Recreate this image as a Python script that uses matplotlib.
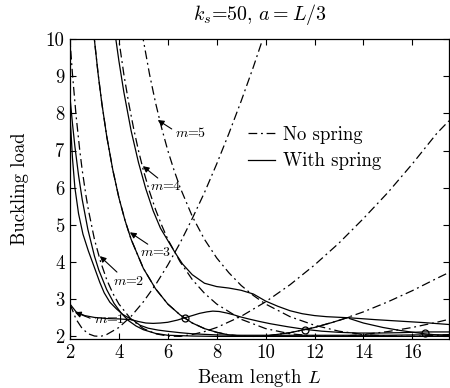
import matplotlib
matplotlib.use("Agg")
import matplotlib.pyplot as plt

plt.rcParams['font.family'] = ['cmr10']
plt.rcParams['mathtext.fontset'] = 'cm'
plt.rcParams['axes.formatter.use_mathtext'] = True

# ---------------- data ----------------
# No spring (dash-dot), modes m = 1..5
ns1_L = [2.0, 2.25, 2.5, 2.75, 3.0, 3.25, 3.5, 4.0, 4.5, 5.0, 5.5, 6.0, 6.5, 7.0, 7.5, 8.0, 8.5, 9.0, 9.5, 10.0, 10.5]
ns1_P = [2.87, 2.46, 2.21, 2.07, 2.01, 2.00, 2.05, 2.24, 2.54, 2.93, 3.39, 3.92, 4.51, 5.17, 5.87, 6.64, 7.46, 8.33, 9.25, 10.23, 11.26]

ns2_L = [1.98, 2.0, 2.1, 2.25, 2.4, 2.5, 2.65, 2.75, 3.0, 3.25, 3.5, 3.75, 4.0, 4.5, 5.0, 5.5, 6.0, 6.5, 7.0, 7.5, 8.0, 9.0, 10.0, 11.0, 12.0, 13.0, 14.0, 15.0, 16.0, 17.0, 17.5]
ns2_P = [10.17, 9.97, 9.06, 7.93, 7.00, 6.47, 5.80, 5.41, 4.61, 4.01, 3.53, 3.16, 2.87, 2.46, 2.21, 2.07, 2.01, 2.00, 2.05, 2.13, 2.24, 2.54, 2.93, 3.39, 3.92, 4.51, 5.17, 5.87, 6.64, 7.46, 7.80]

ns3_L = [2.95, 3.0, 3.15, 3.3, 3.5, 3.75, 4.0, 4.25, 4.5, 5.0, 5.5, 6.0, 6.5, 7.0, 7.5, 8.0, 8.5, 9.0, 9.5, 10.0, 11.0, 12.0, 13.0, 14.0, 15.0, 16.0, 17.0, 17.5]
ns3_P = [10.3, 9.97, 9.06, 8.28, 7.39, 6.48, 5.73, 5.12, 4.61, 3.83, 3.28, 2.87, 2.58, 2.36, 2.21, 2.11, 2.04, 2.01, 2.00, 2.01, 2.10, 2.24, 2.43, 2.66, 2.93, 3.23, 3.56, 3.72]

ns4_L = [3.95, 4.0, 4.2, 4.4, 4.6, 4.8, 5.0, 5.25, 5.5, 5.75, 6.0, 6.5, 7.0, 7.5, 8.0, 9.0, 10.0, 11.0, 12.0, 13.0, 14.0, 15.0, 16.0, 17.0, 17.5]
ns4_P = [10.22, 9.97, 9.06, 8.28, 7.60, 7.00, 6.47, 5.90, 5.41, 4.99, 4.61, 4.01, 3.53, 3.16, 2.87, 2.46, 2.21, 2.07, 2.01, 2.00, 2.05, 2.13, 2.24, 2.38, 2.46]

ns5_L = [4.95, 5.0, 5.25, 5.5, 5.75, 6.0, 6.25, 6.5, 7.0, 7.5, 8.0, 8.5, 9.0, 9.5, 10.0, 11.0, 12.0, 13.0, 14.0, 15.0, 16.0, 17.0, 17.5]
ns5_P = [10.17, 9.97, 9.06, 8.28, 7.60, 7.00, 6.48, 6.01, 5.23, 4.61, 4.11, 3.71, 3.37, 3.10, 2.87, 2.53, 2.30, 2.14, 2.05, 2.01, 2.00, 2.03, 2.05]

# With spring (solid)
wsA_L = [2.0, 2.25, 2.6, 3.0, 3.5, 4.0, 4.5, 4.8, 5.1, 5.4, 5.7, 6.0, 6.4, 6.69, 7.0, 7.3, 7.6, 7.84, 8.1, 8.4, 8.7, 8.94, 9.3, 9.76, 10.2, 10.9, 11.6, 12.3, 13.0, 13.8, 14.6, 15.5, 16.5, 17.5]
wsA_P = [2.87, 2.66, 2.56, 2.51, 2.48, 2.47, 2.45, 2.40, 2.36, 2.35, 2.36, 2.38, 2.44, 2.50, 2.56, 2.62, 2.66, 2.68, 2.67, 2.63, 2.58, 2.53, 2.47, 2.40, 2.34, 2.26, 2.19, 2.14, 2.11, 2.09, 2.09, 2.10, 2.12, 2.12]

wsB_L = [2.0, 2.04, 2.1, 2.2, 2.35, 2.53, 2.75, 3.0, 3.22, 3.4, 3.63, 3.9, 4.16, 4.4, 4.6, 4.86, 5.2, 5.6, 5.95, 6.5, 7.0, 8.0, 9.0, 10.0, 11.0, 12.0, 13.0, 14.0, 15.0, 16.0, 17.0, 17.5]
wsB_P = [7.9, 7.5, 6.8, 6.0, 5.3, 4.75, 4.3, 3.85, 3.45, 3.17, 2.92, 2.74, 2.59, 2.50, 2.43, 2.30, 2.22, 2.17, 2.14, 2.10, 2.07, 2.04, 2.03, 2.03, 2.03, 2.03, 2.03, 2.03, 2.03, 2.04, 2.04, 2.04]

wsC_L = [2.0, 2.1, 2.2, 2.35, 2.5, 2.73, 3.0, 3.18, 3.5, 3.8, 4.1, 4.4, 4.7, 5.0, 5.5, 6.0, 7.0, 8.0, 9.0, 10.0, 12.0, 14.0, 16.0, 17.5]
wsC_P = [8.43, 7.73, 7.11, 6.33, 5.68, 4.88, 4.16, 3.78, 3.26, 2.89, 2.62, 2.42, 2.28, 2.18, 2.08, 2.03, 2.01, 2.00, 2.00, 2.00, 2.00, 2.00, 2.00, 2.00]

ws3_L = [2.95, 3.0, 3.15, 3.3, 3.5, 3.75, 4.0, 4.25, 4.5, 5.0, 5.5, 6.0, 6.5, 7.0, 7.5, 8.0, 8.5, 9.0, 9.5, 10.0, 11.0, 12.0, 12.7, 13.43]
ws3_P = [10.3, 9.97, 9.06, 8.28, 7.39, 6.48, 5.73, 5.12, 4.61, 3.83, 3.28, 2.87, 2.58, 2.36, 2.21, 2.11, 2.04, 2.01, 2.00, 2.01, 2.10, 2.24, 2.37, 2.52]

ws4_L = [3.85, 3.88, 4.0, 4.2, 4.5, 4.8, 5.1, 5.4, 5.7, 6.0, 6.3, 6.6, 7.0, 7.5, 8.0, 8.5, 9.0, 9.5, 10.0, 10.5, 11.0, 11.5, 12.0, 12.5, 13.43, 14.5, 15.5, 16.5, 17.5]
ws4_P = [10.12, 9.97, 9.41, 8.58, 7.53, 6.68, 5.97, 5.38, 4.91, 4.58, 4.25, 3.95, 3.66, 3.43, 3.34, 3.30, 3.24, 3.14, 2.95, 2.81, 2.69, 2.61, 2.56, 2.53, 2.50, 2.45, 2.41, 2.37, 2.32]

ws6_L = [13.43, 14.0, 14.8, 15.5, 16.15, 16.5, 17.0, 17.5]
ws6_P = [2.48, 2.36, 2.24, 2.16, 2.10, 2.07, 2.04, 2.02]

circle_L = [6.69, 11.6, 16.5]
circle_P = [2.50, 2.18, 2.10]

mode_labels = ['$m$=1', '$m$=2', '$m$=3', '$m$=4', '$m$=5']
arrow_tip = [(2.2, 2.65), (3.22, 4.16), (4.45, 4.80), (4.98, 6.58), (5.59, 7.82)]
arrow_tail = [(2.82, 2.49), (3.92, 3.73), (5.18, 4.48), (5.59, 6.26), (6.16, 7.58)]
label_pos = [(3.6, 2.46), (4.42, 3.48), (5.52, 4.26), (5.93, 6.02), (6.95, 7.47)]

xticks = [2, 4, 6, 8, 10, 12, 14, 16]
yticks = [2, 3, 4, 5, 6, 7, 8, 9, 10]

# ---------------- figure ----------------
fig = plt.figure(figsize=(4.5, 3.88), dpi=100)
ax = fig.add_axes([70/450, 49/388, 379/450, 300/388])

dd = (7, 3, 1.5, 3)
lw = 0.9
ns_sets = [(ns1_L, ns1_P), (ns2_L, ns2_P), (ns3_L, ns3_P), (ns4_L, ns4_P), (ns5_L, ns5_P)]
for i, (Lx, Py) in enumerate(ns_sets):
    ax.plot(Lx, Py, color='k', lw=lw, dashes=dd,
            label='No spring' if i == 0 else None)

ws_sets = [(wsA_L, wsA_P), (wsB_L, wsB_P), (wsC_L, wsC_P), (ws3_L, ws3_P),
           (ws4_L, ws4_P), (ws6_L, ws6_P)]
for i, (Lx, Py) in enumerate(ws_sets):
    ax.plot(Lx, Py, color='k', lw=lw, ls='-',
            label='With spring' if i == 0 else None)

ax.plot(circle_L, circle_P, ls='none', marker='o', ms=5, mfc='none', mec='k', mew=0.9)

for lab, tip, tail, pos in zip(mode_labels, arrow_tip, arrow_tail, label_pos):
    ax.annotate('', xy=tip, xytext=tail,
                arrowprops=dict(arrowstyle='-|>', color='k', lw=0.8,
                                mutation_scale=9, shrinkA=0, shrinkB=0))
    ax.text(pos[0], pos[1], lab, fontsize=10, ha='center', va='center')

ax.set_xlim(2, 17.5)
ax.set_ylim(1.93, 10)
ax.set_xticks(xticks)
ax.set_yticks(yticks)
ax.set_xticklabels([str(v) for v in xticks])
ax.set_yticklabels([str(v) for v in yticks])
ax.tick_params(direction='in', length=4, width=0.8, top=True, right=True,
               labelsize=13.5, pad=4)
for s in ax.spines.values():
    s.set_linewidth(0.9)

ax.set_xlabel('Beam length $L$', fontsize=13.5, labelpad=3)
ax.set_ylabel('Buckling load', fontsize=13.5, labelpad=12)
ax.set_title('$k_s$=50, $a=L/3$', fontsize=14.4, pad=14)

handles, labels = ax.get_legend_handles_labels()
ax.legend(handles, labels, loc='upper left', bbox_to_anchor=(0.435, 0.755),
          frameon=False, fontsize=13.5, handlelength=1.45, handletextpad=0.4,
          labelspacing=0.45, borderpad=0.2)

fig.savefig('out.png', dpi=100)
